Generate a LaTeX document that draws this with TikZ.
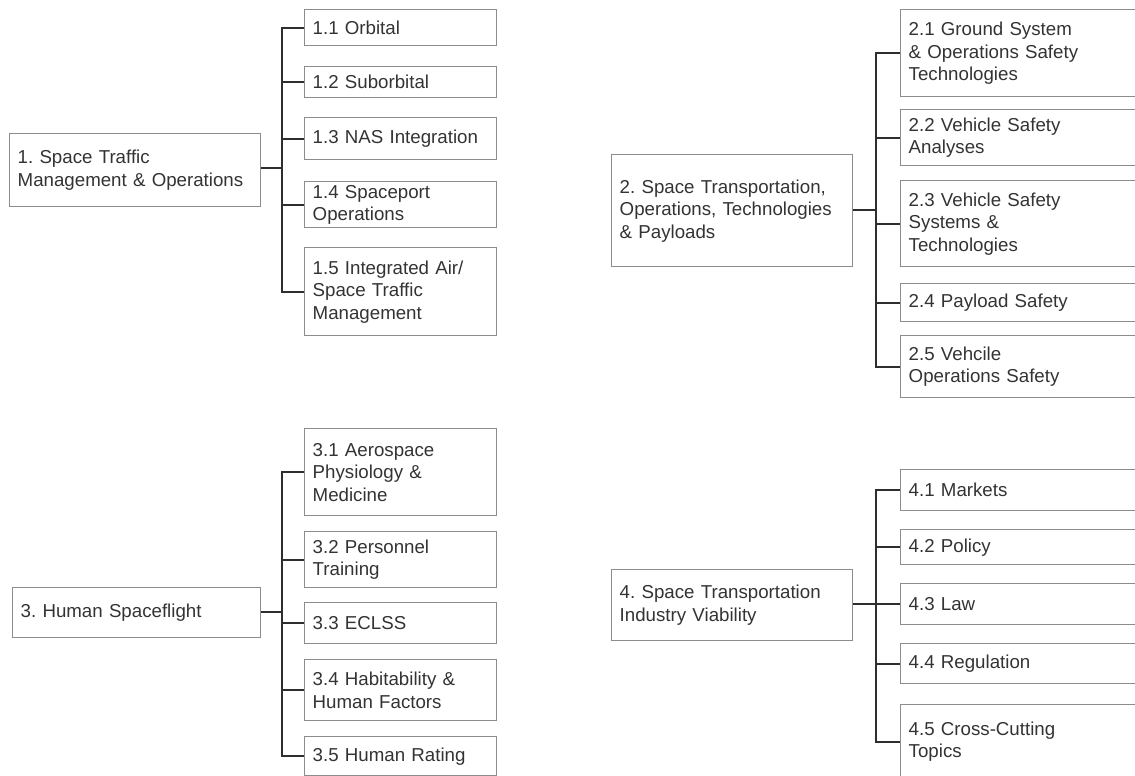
\documentclass[tikz,border=0pt]{standalone}
\usepackage{fontspec}
\setmainfont{Liberation Sans}
\frenchspacing
\definecolor{boxgray}{HTML}{8C8C8C}
\definecolor{linedark}{HTML}{2E2E2E}
\definecolor{textdark}{HTML}{333333}
\begin{document}
\begin{tikzpicture}[x=1pt, y=-1pt,
    box/.style={draw=boxgray, line width=1.4pt, anchor=north west, align=left,
        inner xsep=8pt, inner ysep=1pt, text=textdark,
        font=\fontsize{18.7}{22.5}\selectfont},
    leaf/.style={box, text width=176pt, minimum height=#1},
    rleaf/.style={box, text width=240pt, minimum height=#1},
    link/.style={draw=linedark, line width=2pt}]
    \useasboundingbox (0,0) rectangle (1135,776);
    \clip (0,0) rectangle (1135,776);

    % 1. Space Traffic Management & Operations
    \node[box, text width=235pt, minimum height=73pt] (g1) at (9,133) {1. Space Traffic\\Management \& Operations};
    \node[leaf=36pt] (c11) at (304,9) {1.1 Orbital};
    \node[leaf=31pt] (c12) at (304,66) {1.2 Suborbital};
    \node[leaf=42pt] (c13) at (304,117) {1.3 NAS Integration};
    \node[leaf=46pt] (c14) at (304,181) {1.4 Spaceport\\Operations};
    \node[leaf=88pt] (c15) at (304,247) {1.5 Integrated Air/\\Space Traffic\\Management};
    \coordinate (j1) at (282,168);
    \draw[link] (g1.east |- j1) -- (j1);
    \foreach \c in {c11,c12,c13,c14,c15}
        \draw[link] (j1) |- (\c.west);

    % 2. Space Transportation, Operations, Technologies & Payloads
    \node[box, text width=225pt, minimum height=112pt] (g2) at (611,154) {2. Space Transportation,\\Operations, Technologies\\\& Payloads};
    \node[rleaf=87pt] (c21) at (900,9) {2.1 Ground System\\\& Operations Safety\\Technologies};
    \node[rleaf=56pt] (c22) at (900,109) {2.2 Vehicle Safety\\Analyses};
    \node[rleaf=86pt] (c23) at (900,180) {2.3 Vehicle Safety\\Systems \&\\Technologies};
    \node[rleaf=38pt] (c24) at (900,283) {2.4 Payload Safety};
    \node[rleaf=62pt] (c25) at (900,335) {2.5 Vehcile\\Operations Safety};
    \coordinate (j2) at (876,210);
    \draw[link] (g2.east |- j2) -- (j2);
    \foreach \c in {c21,c22,c23,c24,c25}
        \draw[link] (j2) |- (\c.west);

    % 3. Human Spaceflight
    \node[box, text width=232pt, minimum height=50pt] (g3) at (12,587) {3. Human Spaceflight};
    \node[leaf=87pt] (c31) at (304,428) {3.1 Aerospace\\Physiology \&\\Medicine};
    \node[leaf=56pt] (c32) at (304,531) {3.2 Personnel\\Training};
    \node[leaf=41pt] (c33) at (304,602) {3.3 ECLSS};
    \node[leaf=61pt] (c34) at (304,659) {3.4 Habitability \&\\Human Factors};
    \node[leaf=39pt] (c35) at (304,736) {3.5 Human Rating};
    \coordinate (j3) at (282,612);
    \draw[link] (g3.east |- j3) -- (j3);
    \foreach \c in {c31,c32,c33,c34,c35}
        \draw[link] (j3) |- (\c.west);

    % 4. Space Transportation Industry Viability
    \node[box, text width=225pt, minimum height=71pt] (g4) at (611,569) {4. Space Transportation\\Industry Viability};
    \node[rleaf=41pt] (c41) at (900,469) {4.1 Markets};
    \node[rleaf=35pt] (c42) at (900,529) {4.2 Policy};
    \node[rleaf=41pt] (c43) at (900,583) {4.3 Law};
    \node[rleaf=40pt] (c44) at (900,643) {4.4 Regulation};
    \node[rleaf=74pt] (c45) at (900,704) {4.5 Cross-Cutting\\Topics};
    \coordinate (j4) at (876,604);
    \draw[link] (g4.east |- j4) -- (j4);
    \foreach \c in {c41,c42,c43,c44,c45}
        \draw[link] (j4) |- (\c.west);
\end{tikzpicture}
\end{document}
